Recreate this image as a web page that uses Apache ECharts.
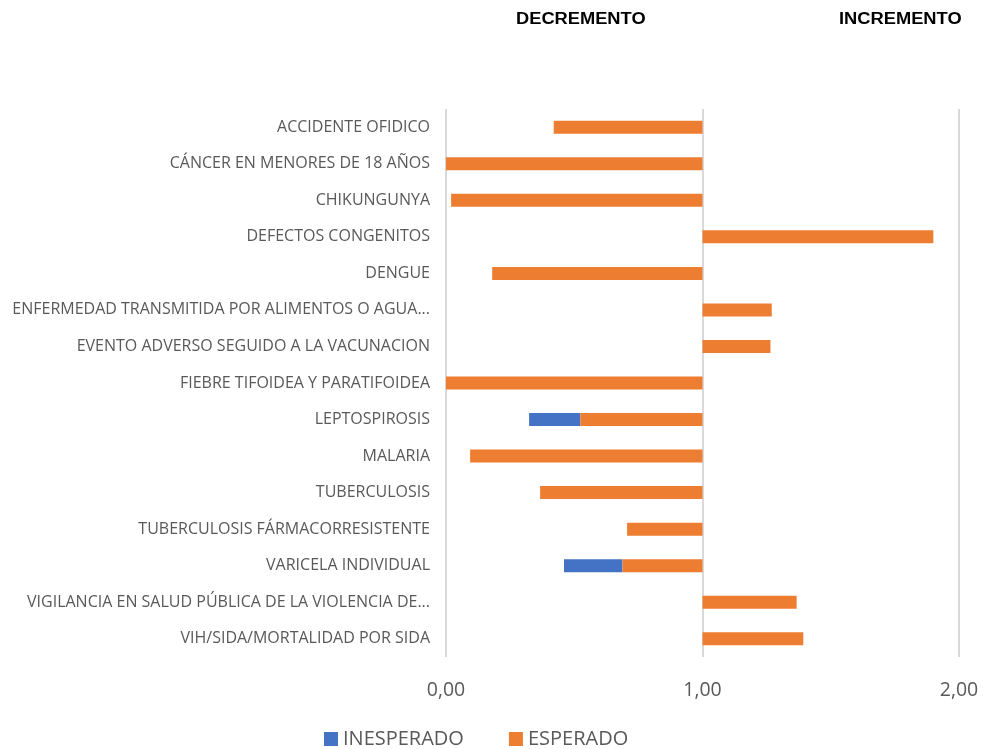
<!DOCTYPE html>
<html>
<head>
<meta charset="utf-8">
<script src="https://cdn.jsdelivr.net/npm/echarts@6/dist/echarts.min.js"></script>
<style>
	html,body{margin:0;padding:0;background:#fff;}
	#chart{width:984px;height:749px;}
</style>
</head>
<body>
<div id="chart"></div>
<script>
	// eventos (de arriba hacia abajo)
	var eventos = [
		'ACCIDENTE OFIDICO',
		'CÁNCER EN MENORES DE 18 AÑOS',
		'CHIKUNGUNYA',
		'DEFECTOS CONGENITOS',
		'DENGUE',
		'ENFERMEDAD TRANSMITIDA POR ALIMENTOS O AGUA...',
		'EVENTO ADVERSO SEGUIDO A LA VACUNACION',
		'FIEBRE TIFOIDEA Y PARATIFOIDEA',
		'LEPTOSPIROSIS',
		'MALARIA',
		'TUBERCULOSIS',
		'TUBERCULOSIS FÁRMACORRESISTENTE',
		'VARICELA INDIVIDUAL',
		'VIGILANCIA EN SALUD PÚBLICA DE LA VIOLENCIA DE...',
		'VIH/SIDA/MORTALIDAD POR SIDA'
	];
	// inicio de la barra (serie invisible)
	var inicio = [0.42, 0.00, 0.02, 1.00, 0.18, 1.00, 1.00, 0.00, 0.324, 0.094, 0.367, 0.706, 0.46, 1.00, 1.00];
	var inesperado = [0, 0, 0, 0, 0, 0, 0, 0, 0.20, 0, 0, 0, 0.228, 0, 0];
	var esperado = [0.58, 1.00, 0.98, 0.90, 0.82, 0.27, 0.265, 1.00, 0.476, 0.906, 0.633, 0.294, 0.312, 0.367, 0.393];
	var ticksX = [0, 1, 2];

	var chart = echarts.init(document.getElementById('chart'));
	var option = {
		animation: false,
		textStyle: {fontFamily: 'Open Sans'},
		graphic: [
			{type: 'text', x: 516, y: 12, scaleX: 1.142, style: {text: 'DECREMENTO', font: 'bold 16px "Liberation Sans"', fill: '#000', verticalAlign: 'top'}},
			{type: 'text', x: 839, y: 12, scaleX: 1.143, style: {text: 'INCREMENTO', font: 'bold 16px "Liberation Sans"', fill: '#000', verticalAlign: 'top'}}
		],
		legend: {
			data: ['INESPERADO', 'ESPERADO'],
			top: 724,
			left: 319,
			itemWidth: 14,
			itemHeight: 14,
			itemGap: 45,
			icon: 'rect',
			textStyle: {fontSize: 20, color: '#595959', fontFamily: 'Open Sans'}
		},
		grid: {left: 446, right: 25, top: 109, bottom: 92},
		xAxis: {
			type: 'value',
			min: 0,
			max: 2,
			interval: 1,
			axisLine: {show: false},
			axisTick: {show: false},
			splitLine: {lineStyle: {color: '#d9d9d9', width: 2}},
			axisLabel: {
				margin: 23,
				fontSize: 19.5,
				color: '#595959',
				formatter: function (v) {
					return ticksX.indexOf(v) >= 0 ? v.toFixed(2).replace('.', ',') : '';
				}
			}
		},
		yAxis: {
			type: 'category',
			inverse: true,
			data: eventos,
			axisLine: {show: false},
			axisTick: {show: false},
			axisLabel: {margin: 16, fontSize: 16, color: '#595959'}
		},
		series: [
			{
				name: 'base',
				type: 'bar',
				stack: 'total',
				barWidth: 13,
				itemStyle: {color: 'transparent'},
				emphasis: {disabled: true},
				data: inicio
			},
			{
				name: 'INESPERADO',
				type: 'bar',
				stack: 'total',
				barWidth: 13,
				itemStyle: {color: '#4472c4'},
				data: inesperado
			},
			{
				name: 'ESPERADO',
				type: 'bar',
				stack: 'total',
				barWidth: 13,
				itemStyle: {color: '#ed7d31'},
				data: esperado
			}
		]
	};
	chart.setOption(option);
</script>
</body>
</html>
